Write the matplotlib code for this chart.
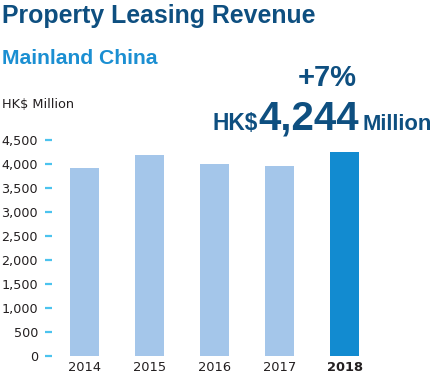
import matplotlib
matplotlib.use("Agg")
import matplotlib.pyplot as plt

years = ["2014", "2015", "2016", "2017", "2018"]
revenue = [3920, 4196, 3995, 3960, 4244]
yticks = [0, 500, 1000, 1500, 2000, 2500, 3000, 3500, 4000, 4500]

LIGHT = "#a4c6ea"
DARK = "#128bd0"
NAVY = "#0e4f80"
SUB = "#1b8fd2"
TICK = "#4cc3ee"
TXT = "#231f20"

W, H = 432, 380
fig = plt.figure(figsize=(W / 100, H / 100), dpi=100)

bold_font = ["Liberation Sans", "DejaVu Sans"]

def px(x, y):
    return x / W, 1 - y / H

# axes placement in pixels
L, R, T, B = 52, 377, 140, 355.6
ax = fig.add_axes([L / W, 1 - B / H, (R - L) / W, (B - T) / H])
colors = [LIGHT] * (len(years) - 1) + [DARK]
ax.bar(range(len(years)), revenue, width=0.446, color=colors)
ax.set_xlim(-0.5, 4.5)
ax.set_ylim(0, 4500)
for s in ax.spines.values():
    s.set_visible(False)
ax.set_yticks(yticks)
ax.set_yticklabels([f"{v:,}" for v in yticks], fontsize=9.2, color=TXT, family="DejaVu Sans")
ax.tick_params(axis="y", length=5, width=1.6, color=TICK, pad=5, direction="out")
ax.set_xticks(range(len(years)))
ax.set_xticklabels(years, fontsize=9.4, color=TXT, family="DejaVu Sans")
ax.tick_params(axis="x", length=0, pad=4)
ax.get_xticklabels()[-1].set_fontweight("bold")

fig.text(*px(2, 23.5), "Property Leasing Revenue", family=bold_font, fontweight="bold",
         fontsize=17.9, color=NAVY, va="baseline", ha="left")
fig.text(*px(2, 64), "Mainland China", family=bold_font, fontweight="bold",
         fontsize=15.2, color=SUB, va="baseline", ha="left")
fig.text(*px(2, 107.7), "HK$ Million", family="DejaVu Sans",
         fontsize=9.3, color=TXT, va="baseline", ha="left")
fig.text(*px(327.5, 86), "+7%", family=bold_font, fontweight="bold",
         fontsize=21, color=NAVY, va="baseline", ha="center")

# HK$4,244Million composite
fig.text(*px(213, 130), "HK$", family=bold_font, fontweight="bold",
         fontsize=16.4, color=NAVY, va="baseline", ha="left")
fig.text(*px(258, 130), "4,244", family=bold_font, fontweight="bold",
         fontsize=29, color=NAVY, va="baseline", ha="left")
fig.text(*px(362, 130), "Million", family=bold_font, fontweight="bold",
         fontsize=15.8, color=NAVY, va="baseline", ha="left")

fig.savefig("out.png", dpi=100)
